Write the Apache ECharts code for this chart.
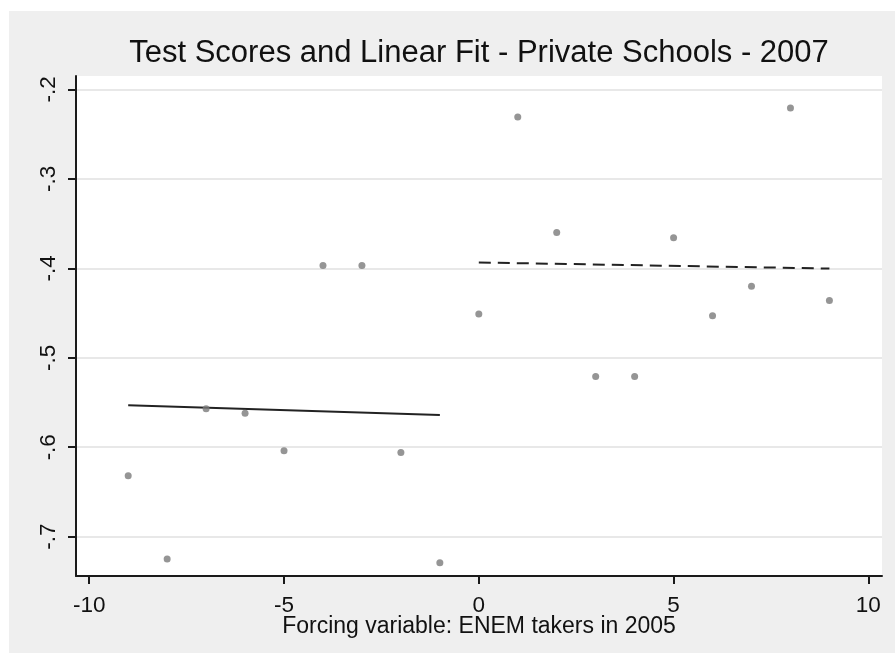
<!DOCTYPE html>
<html>
<head>
<meta charset="utf-8">
<script src="https://cdn.jsdelivr.net/npm/echarts@6/dist/echarts.min.js"></script>
<style>
  html, body { margin: 0; padding: 0; background: #ffffff; width: 895px; height: 653px; overflow: hidden; }
  #chart { position: absolute; left: 9px; top: 11px; width: 886px; height: 642px; }
</style>
</head>
<body>
<div id="chart"></div>
<script>
// Forcing variable values (x) and test scores (y)
const forcingX = [-9, -8, -7, -6, -5, -4, -3, -2, -1, 0, 1, 2, 3, 4, 5, 6, 7, 8, 9];
const testScores = [-0.632, -0.725, -0.557, -0.562, -0.604, -0.397, -0.397, -0.606, -0.729,
                    -0.451, -0.231, -0.360, -0.521, -0.521, -0.366, -0.453, -0.420, -0.221, -0.436];
// Linear fit endpoints, left of cutoff and right of cutoff
const fitLeftX = [-9, -1];
const fitLeftY = [-0.553, -0.564];
const fitRightX = [0, 9];
const fitRightY = [-0.3935, -0.4003];
// Tick values
const xTicks = [-10, -5, 0, 5, 10];
const yTicks = [-0.7, -0.6, -0.5, -0.4, -0.3, -0.2];

const titleText = 'Test Scores and Linear Fit - Private Schools - 2007';
const xAxisTitle = 'Forcing variable: ENEM takers in 2005';

const pairs = (xs, ys) => xs.map((x, i) => [x, ys[i]]);
const fmtY = v => {
  const s = Number(v).toFixed(1);
  return s.replace(/^(-?)0\./, '$1.');
};

const FONT = '"Liberation Sans", Arial, sans-serif';
const TXT = '#111111';

const chart = echarts.init(document.getElementById('chart'), null, { renderer: 'canvas' });
chart.setOption({
  backgroundColor: '#efefef',
  animation: false,
  title: {
    text: titleText,
    left: 470,
    top: 27,
    padding: 0,
    textAlign: 'center',
    textStyle: { fontFamily: FONT, fontSize: 31, fontWeight: 'normal', color: TXT }
  },
  grid: {
    left: 67, right: 13, top: 65, bottom: 77,
    show: true, backgroundColor: '#ffffff', borderWidth: 0
  },
  xAxis: {
    type: 'value',
    min: -10.34, max: 10.35,
    name: xAxisTitle,
    nameLocation: 'middle',
    nameGap: 39,
    nameMoveOverlap: false,
    nameTextStyle: { fontFamily: FONT, fontSize: 23, color: TXT },
    axisLine: { onZero: false, lineStyle: { color: '#1a1a1a', width: 2 } },
    axisTick: { show: true, length: 8, lineStyle: { color: '#1a1a1a', width: 2 }, customValues: xTicks },
    axisLabel: { fontFamily: FONT, fontSize: 22.5, color: TXT, margin: 18, customValues: xTicks,
                 showMinLabel: true, showMaxLabel: true },
    splitLine: { show: false }
  },
  yAxis: {
    type: 'value',
    min: -0.7439, max: -0.1851,
    axisLine: { onZero: false, lineStyle: { color: '#1a1a1a', width: 2 } },
    axisTick: { show: true, length: 8, lineStyle: { color: '#1a1a1a', width: 2 }, customValues: yTicks },
    axisLabel: { fontFamily: FONT, fontSize: 22.5, color: TXT, margin: 16, rotate: 90,
                 customValues: yTicks, formatter: fmtY },
    splitLine: { show: true, lineStyle: { color: '#e8e8e8', width: 2 } }
  },
  series: [
    {
      type: 'scatter',
      data: pairs(forcingX, testScores),
      symbol: 'circle',
      symbolSize: 7,
      itemStyle: { color: '#7a7a7a' },
      z: 3
    },
    {
      type: 'line',
      data: pairs(fitLeftX, fitLeftY),
      showSymbol: false,
      symbol: 'none',
      lineStyle: { color: '#222222', width: 2, type: 'solid' },
      z: 2
    },
    {
      type: 'line',
      data: pairs(fitRightX, fitRightY),
      showSymbol: false,
      symbol: 'none',
      lineStyle: { color: '#222222', width: 2, type: [12, 7] },
      z: 2
    }
  ]
});
</script>
</body>
</html>
